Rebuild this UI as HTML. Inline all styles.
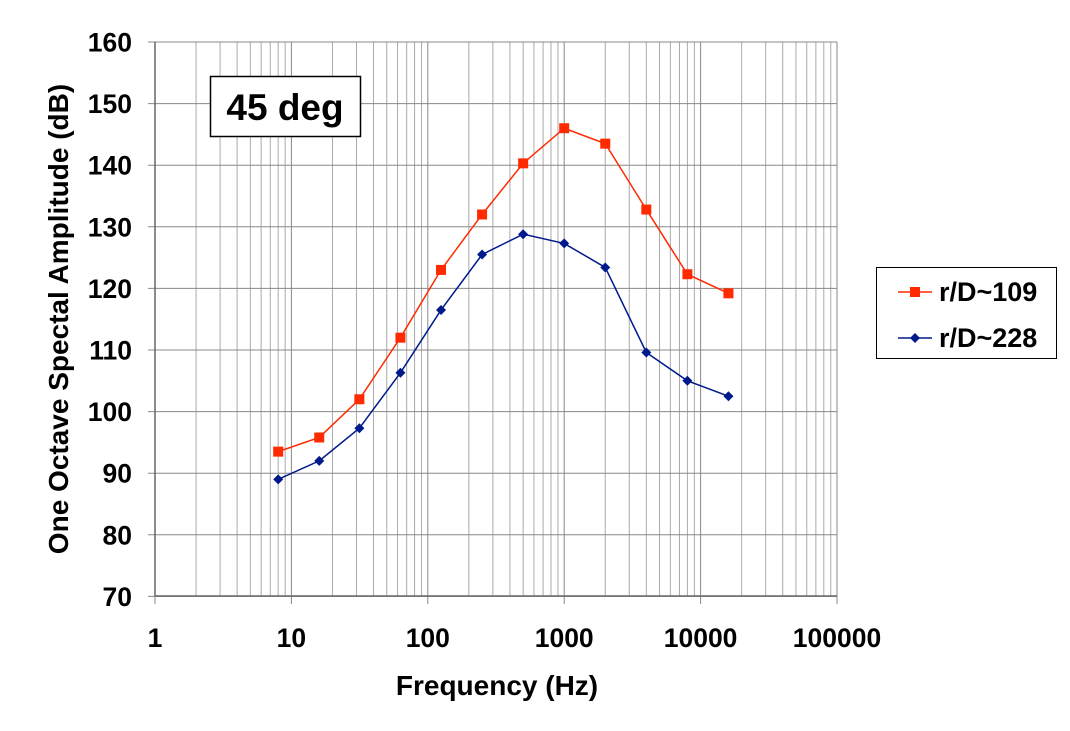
<!DOCTYPE html>
<html><head><meta charset="utf-8"><style>
html,body{margin:0;padding:0;background:#fff;}
svg{display:block;font-family:"Liberation Sans",Arial,sans-serif;font-weight:bold;}
</style></head><body>
<svg id="s" width="1070" height="731" xmlns="http://www.w3.org/2000/svg"></svg>
<script>
var s=document.getElementById('s');
var X0=155,DEC=136.4,Y0=42,DY=6.16;
function X(f){return X0+Math.log10(f)*DEC;}
function Y(v){return Y0+(160-v)*DY;}
var h='';
for(var d=0;d<5;d++)for(var m=2;m<=9;m++){var x=X(m*Math.pow(10,d));h+='<line x1="'+x+'" y1="42" x2="'+x+'" y2="596" stroke="#aaa" stroke-width="1"/>';}
for(var d=0;d<=5;d++){var x=X(Math.pow(10,d));h+='<line x1="'+x+'" y1="42" x2="'+x+'" y2="596" stroke="#888" stroke-width="1"/>';
h+='<line x1="'+x+'" y1="596" x2="'+x+'" y2="604" stroke="#888"/>';
h+='<text x="'+x+'" y="647" font-size="26.5" text-anchor="middle">'+Math.pow(10,d)+'</text>';}
for(var v=70;v<=160;v+=10){var y=Y(v);h+='<line x1="148" y1="'+y+'" x2="837" y2="'+y+'" stroke="#888" stroke-width="1"/>';
h+='<text x="132" y="'+(y+9.5)+'" font-size="26.5" text-anchor="end">'+v+'</text>';}
h+='<line x1="155" y1="42" x2="155" y2="596" stroke="#666" stroke-width="1.5"/>';
h+='<line x1="155" y1="596" x2="837" y2="596" stroke="#666" stroke-width="1.5"/>';
var f=[8,16,31.5,63,125,250,500,1000,2000,4000,8000,16000];
var r=[93.5,95.8,102,112,123,132,140.3,146,143.5,132.8,122.3,119.2];
var b=[89,92,97.3,106.3,116.5,125.5,128.8,127.3,123.4,109.6,105,102.5];
function pts(a){return f.map(function(q,i){return X(q)+','+Y(a[i]);}).join(' ');}
h+='<polyline points="'+pts(r)+'" fill="none" stroke="#ff2a00" stroke-width="1.5"/>';
h+='<polyline points="'+pts(b)+'" fill="none" stroke="#001a8c" stroke-width="1.5"/>';
f.forEach(function(q,i){var x=X(q),y=Y(r[i]);h+='<rect x="'+(x-5)+'" y="'+(y-5)+'" width="10" height="10" fill="#ff2a00"/>';
y=Y(b[i]);h+='<polygon points="'+x+','+(y-5)+' '+(x+5)+','+y+' '+x+','+(y+5)+' '+(x-5)+','+y+'" fill="#001a8c"/>';});
h+='<rect x="210.5" y="76.5" width="150" height="60" fill="#fff" stroke="#000" stroke-width="1.5"/>';
h+='<text x="285" y="120" font-size="37" text-anchor="middle">45 deg</text>';
h+='<rect x="876.5" y="267.5" width="180" height="91" fill="#fff" stroke="#000" stroke-width="1"/>';
h+='<line x1="898" y1="292" x2="932" y2="292" stroke="#ff2a00" stroke-width="1.5"/><rect x="910" y="287" width="10" height="10" fill="#ff2a00"/>';
h+='<text x="939" y="301" font-size="27">r/D~109</text>';
h+='<line x1="898" y1="338" x2="932" y2="338" stroke="#001a8c" stroke-width="1.5"/><polygon points="915,333 920,338 915,343 910,338" fill="#001a8c"/>';
h+='<text x="939" y="347" font-size="27">r/D~228</text>';
h+='<text x="497" y="695" font-size="28" text-anchor="middle">Frequency (Hz)</text>';
h+='<text transform="translate(68,319) rotate(-90)" font-size="28" text-anchor="middle">One Octave Spectal Amplitude (dB)</text>';
s.innerHTML=h;
</script>
</body></html>
